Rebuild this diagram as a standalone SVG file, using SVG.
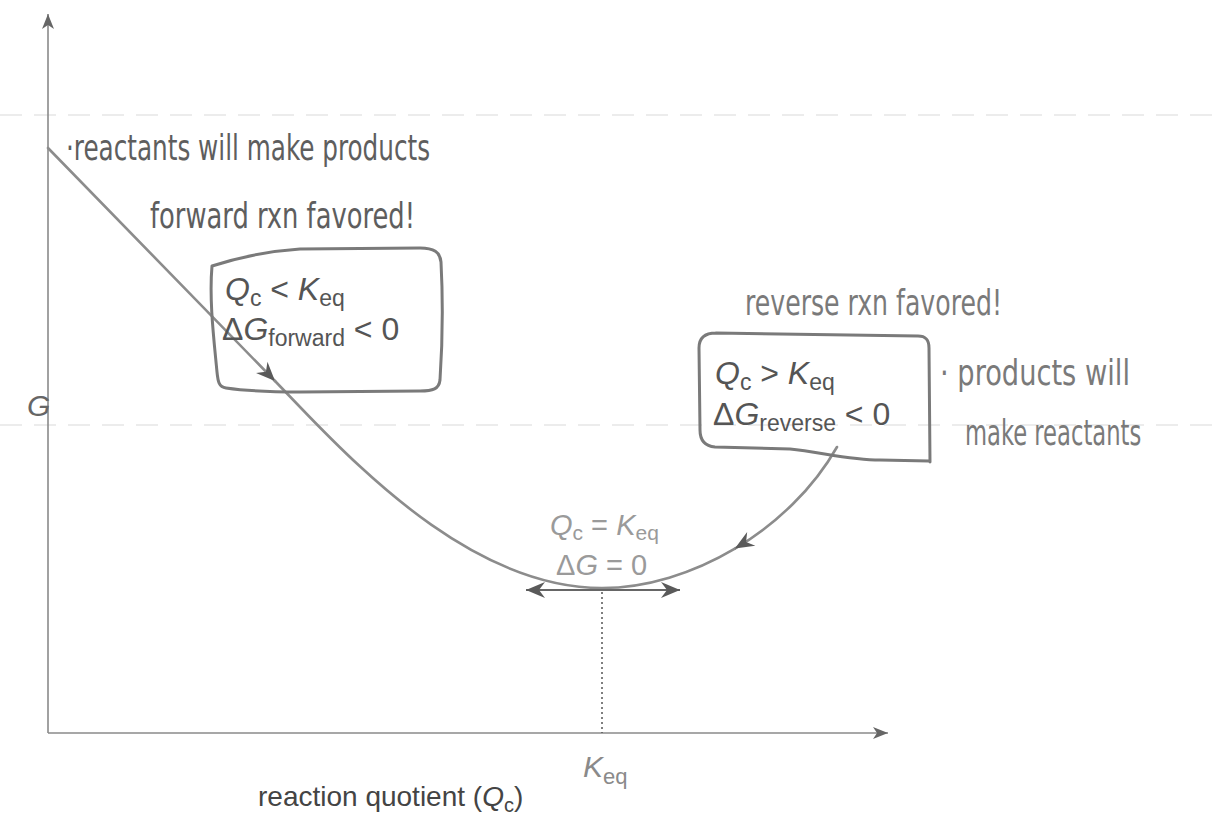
<svg xmlns="http://www.w3.org/2000/svg" width="1212" height="833" viewBox="0 0 1212 833">
  <style>
    .axis { stroke: #8a8a8a; stroke-width: 1.6; fill: none; }
    .curve { stroke: #8c8c8c; stroke-width: 2.6; fill: none; stroke-linecap: round; }
    .box { stroke: #7a7a7a; stroke-width: 3; fill: none; stroke-linejoin: round; stroke-linecap: round; }
    .math { font-family: "Liberation Sans", Arial, sans-serif; font-size: 32px; fill: #555; }
    .eq { font-family: "Liberation Sans", Arial, sans-serif; font-size: 29px; fill: #9a9a9a; }
    .hand { font-family: "Liberation Sans Narrow", "DejaVu Sans Condensed", "Liberation Sans", sans-serif; font-size: 36px; }
    .dark { fill: #5e5e5e; }
    .light { fill: #7a7a7a; }
    .it { font-style: italic; }
    .guide { stroke: #e6e6e6; stroke-width: 1.5; stroke-dasharray: 22 12; fill: none; }
  </style>
  <defs>
    <marker id="barb" viewBox="-20 -10 22 20" refX="0" refY="0" markerWidth="22" markerHeight="20" markerUnits="userSpaceOnUse" orient="auto">
      <path d="M0,0 L-19,-8 L-13,0 L-19,8 Z" fill="#5a5a5a"/>
    </marker>
    <marker id="barb-start" viewBox="-20 -10 22 20" refX="0" refY="0" markerWidth="22" markerHeight="20" markerUnits="userSpaceOnUse" orient="auto-start-reverse">
      <path d="M0,0 L-19,-8 L-13,0 L-19,8 Z" fill="#5a5a5a"/>
    </marker>
    <marker id="axis-head" viewBox="-16 -8 18 16" refX="0" refY="0" markerWidth="18" markerHeight="16" markerUnits="userSpaceOnUse" orient="auto">
      <path d="M0,0 L-15,-6 L-11,0 L-15,6 Z" fill="#666"/>
    </marker>
  </defs>

  <rect width="1212" height="833" fill="#ffffff"/>

  <!-- faint ruled lines of the page -->
  <g id="page-lines">
    <line class="guide" x1="0" y1="115" x2="1212" y2="115"/>
    <line class="guide" x1="0" y1="425" x2="1212" y2="425"/>
  </g>

  <!-- axes -->
  <g id="axes">
    <line class="axis" x1="48" y1="733" x2="48" y2="14" marker-end="url(#axis-head)"/>
    <line class="axis" x1="48" y1="733" x2="888" y2="733" marker-end="url(#axis-head)"/>
    <text x="27" y="416" font-family="Liberation Sans, Arial, sans-serif" font-size="30" font-style="italic" fill="#666">G</text>
    <text x="583" y="777" font-family="Liberation Sans, Arial, sans-serif" font-size="30" fill="#8a8a8a"><tspan font-style="italic">K</tspan><tspan font-size="22" dy="7">eq</tspan></text>
    <text x="258" y="806" font-family="Liberation Sans, Arial, sans-serif" font-size="28" fill="#444">reaction quotient (<tspan font-style="italic">Q</tspan><tspan font-size="20" dy="6">c</tspan><tspan dy="-6">)</tspan></text>
  </g>

  <!-- free energy curve and arrows -->
  <g id="connectors">
    <path class="curve" d="M48,148 L275,381" stroke="#666" marker-end="url(#barb)"/>
    <path class="curve" d="M275,381 L300,407 C370,480 480,588 602,588 C646,588 693,573.5 734.9,548.6"/>
    <path class="curve" d="M837,447 C813.5,488.5 776.75,523.75 734.9,548.6" stroke="#777" marker-end="url(#barb)"/>
    <line x1="526" y1="590" x2="680" y2="590" stroke="#666" stroke-width="2" marker-start="url(#barb-start)" marker-end="url(#barb)"/>
    <line x1="602" y1="592" x2="602" y2="733" stroke="#555" stroke-width="1.5" stroke-dasharray="2 3"/>
  </g>

  <!-- forward condition -->
  <g id="forward-box">
    <path class="box" d="M212,266 C240,257 270,251 300,249 L420,248 C434,248 440,252 441,262 C443,300 442,350 440,380 C439,389 433,391 420,391 L300,392 C262,392 240,390 226,388 C219,387 218,382 217,372 C214,340 209,300 212,266 Z"/>
    <text class="math" x="225" y="300"><tspan class="it">Q</tspan><tspan font-size="23" dy="6">c</tspan><tspan dy="-6"> &lt; </tspan><tspan class="it">K</tspan><tspan font-size="23" dy="6">eq</tspan></text>
    <text class="math" x="222" y="340">Δ<tspan class="it">G</tspan><tspan font-size="23" dy="6">forward</tspan><tspan dy="-6"> &lt; 0</tspan></text>
  </g>

  <!-- reverse condition -->
  <g id="reverse-box">
    <path class="box" d="M716,333 L918,336 C926,336 929,340 929,348 L930,462 M929,461 L880,460 C850,460 820,452 790,449 L715,447 C704,446 700,440 700,430 L699,348 C699,338 705,333 716,333"/>
    <text class="math" x="715" y="384"><tspan class="it">Q</tspan><tspan font-size="23" dy="6">c</tspan><tspan dy="-6"> &gt; </tspan><tspan class="it">K</tspan><tspan font-size="23" dy="6">eq</tspan></text>
    <text class="math" x="713" y="425">Δ<tspan class="it">G</tspan><tspan font-size="23" dy="6">reverse</tspan><tspan dy="-6"> &lt; 0</tspan></text>
  </g>

  <!-- equilibrium condition -->
  <g id="equilibrium">
    <text class="eq" x="550" y="535"><tspan class="it">Q</tspan><tspan font-size="21" dy="5">c</tspan><tspan dy="-5"> = </tspan><tspan class="it">K</tspan><tspan font-size="21" dy="5">eq</tspan></text>
    <text class="eq" x="556" y="575">Δ<tspan class="it">G</tspan> = 0</text>
  </g>

  <!-- handwritten notes -->
  <g id="note-forward">
    <text class="hand dark" x="66" y="160" textLength="364" lengthAdjust="spacingAndGlyphs">·reactants will make products</text>
    <text class="hand dark" x="150" y="228" textLength="265" lengthAdjust="spacingAndGlyphs">forward rxn favored!</text>
  </g>
  <g id="note-reverse">
    <text class="hand light" x="745" y="315" textLength="257" lengthAdjust="spacingAndGlyphs">reverse rxn favored!</text>
    <text class="hand light" x="940" y="385" textLength="190" lengthAdjust="spacingAndGlyphs">· products will</text>
    <text class="hand light" transform="translate(965,445) scale(0.7,1)" font-size="32">make reactants</text>
  </g>
</svg>
